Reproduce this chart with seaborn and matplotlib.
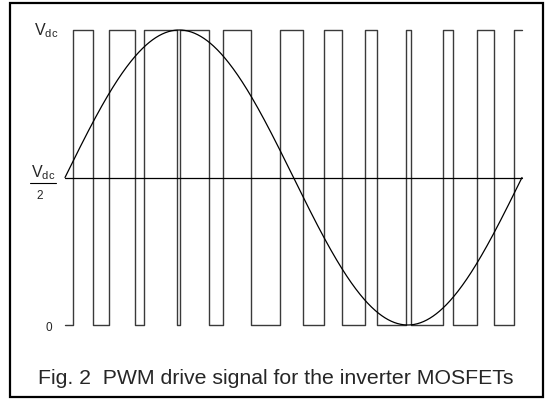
import numpy as np
import pandas as pd
import seaborn as sns
import matplotlib
matplotlib.use('Agg')
import matplotlib.pyplot as plt
from matplotlib.patches import Rectangle

# PWM switching instants, in degrees of the modulating period
rise_deg = [6.3, 34.7, 62.6, 90.6, 124.5, 169.4, 204.0, 236.3, 268.6, 297.7, 324.5, 353.7]
fall_deg = [22.1, 55.1, 88.2, 113.4, 146.5, 187.5, 218.2, 245.8, 272.5, 305.6, 337.9]
period_deg = 360

# modulating sine (in units of Vdc)
sine_offset = 0.5
sine_amp = 0.5

caption = 'Fig. 2  PWM drive signal for the inverter MOSFETs'

sns.set_theme(style='white')
plt.rcParams['font.family'] = ['Liberation Sans', 'DejaVu Sans']


def px(x, y):
	# pixel coords -> figure fraction
	return x / 547, 1 - y / 400


def pwm_frame():
	edges = sorted([(t, 1) for t in rise_deg] + [(t, 0) for t in fall_deg])
	xs = [0] + [e[0] for e in edges] + [period_deg]
	ys = [0] + [e[1] for e in edges] + [edges[-1][1]]
	return pd.DataFrame({'deg': xs, 'v': ys})


def main():
	fig = plt.figure(figsize=(5.47, 4.0), dpi=100)
	ax = fig.add_axes([65 / 547, 75 / 400, 457 / 547, 295 / 400])

	pwm = pwm_frame()
	sns.lineplot(x='deg', y='v', data=pwm, ax=ax, estimator=None, sort=False,
	             drawstyle='steps-post', color='#3a3a3a', lw=1.0, clip_on=False)

	theta = np.linspace(0, period_deg, 721)
	sine = pd.DataFrame({'deg': theta, 'v': sine_offset + sine_amp * np.sin(np.radians(theta))})
	sns.lineplot(x='deg', y='v', data=sine, ax=ax, estimator=None, sort=False,
	             color='black', lw=0.9, clip_on=False)

	mid = pd.DataFrame({'deg': [0, period_deg], 'v': [sine_offset, sine_offset]})
	sns.lineplot(x='deg', y='v', data=mid, ax=ax, estimator=None, sort=False,
	             color='black', lw=0.9, clip_on=False)

	ax.set_xlim(0, period_deg)
	ax.set_ylim(0, 1)
	ax.axis('off')

	# level labels
	fig.text(*px(34, 31), r'$\mathregular{V_{dc}}$', fontsize=11.5, ha='left', va='center')
	fig.text(*px(43, 173), r'$\mathregular{V_{dc}}$', fontsize=11.5, ha='center', va='center')
	fig.add_artist(plt.Line2D([30 / 547, 56 / 547], [1 - 183 / 400] * 2, color='black', lw=0.8))
	fig.text(*px(40, 196), '2', fontsize=8.5, ha='center', va='center')
	fig.text(*px(49, 328), '0', fontsize=8.5, ha='center', va='center')

	fig.text(*px(276, 378), caption, fontsize=15.3, ha='center', va='center')

	fig.add_artist(Rectangle((10 / 547, 3 / 400), 533 / 547, 394 / 400, transform=fig.transFigure,
	                         fill=False, edgecolor='black', lw=1.6))

	fig.savefig('out.png', dpi=100)


if __name__ == '__main__':
	main()
